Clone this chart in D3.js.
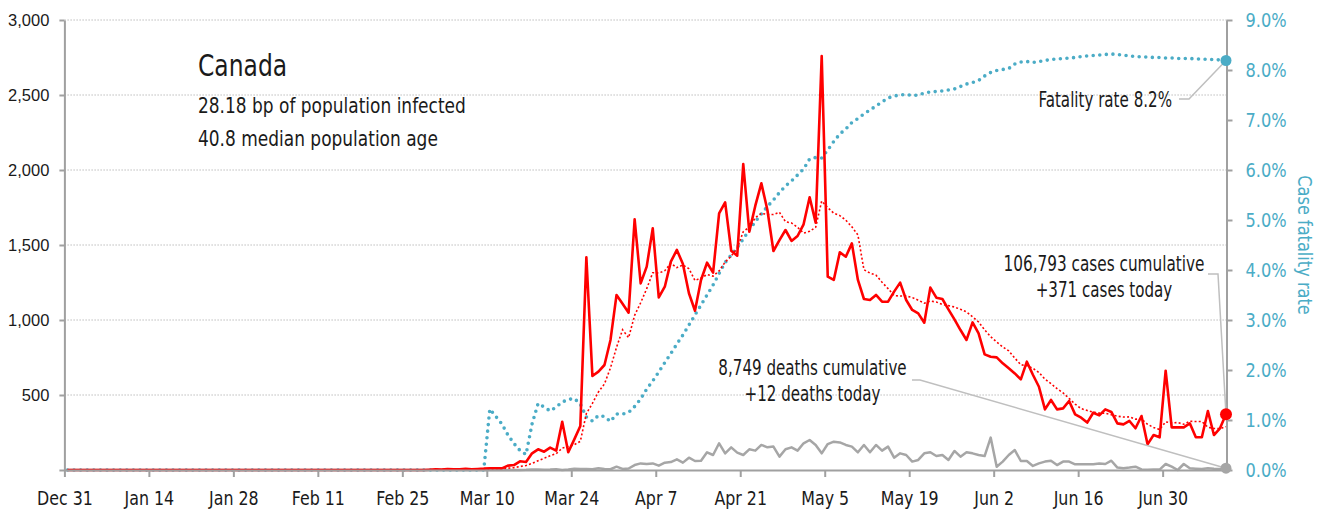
<!DOCTYPE html>
<html><head><meta charset="utf-8">
<script src="https://cdn.jsdelivr.net/npm/d3@7"></script>
<style>
body{margin:0;background:#fff;}
svg{display:block;}
.cond{font-family:"Liberation Sans Narrow","DejaVu Sans Condensed","Roboto Condensed","Arial Narrow",sans-serif;}
</style></head><body>
<svg id="chart" width="1319" height="512"></svg>
<script>
// ---------------- data (daily, starting Dec 31, 2019) ----------------
const startDate = "2019-12-31";
const cases = [
0,0,0,0,0,0,0,0,0,0, 0,0,0,0,0,0,0,0,0,0, 0,0,0,0,0,0,0,0,0,0,
0,0,0,0,0,0,0,0,0,0, 0,0,0,0,0,0,0,0,0,0, 0,0,0,0,0,0,0,0,0,0,
2,4,3,6,4,5,8,4,7,9,
12,12,11,29,33,58,53,111,138,122,
149,129,322,118,204,293,1418,627,656,700,
867,1167,1108,1049,1671,1244,1356,1611,1151,1222,
1389,1467,1373,1178,1062,1267,1382,1316,1711,1784,
1462,1429,2040,1589,1762,1911,1733,1460,1533,1600,
1527,1560,1638,1818,1649,2760,1289,1267,1451,1422,
1511,1267,1140,1133,1167,1122,1122,1189,1249,1133,
1067,1044,982,1216,1149,1140,1071,1004,933,867,
984,911,771,755,751,711,678,644,604,722,
635,555,404,467,404,411,460,371,349,316,
382,364,404,387,311,304,327,278,360,171,
233,218,662,284,284,284,311,218,218,393,
233,278,371];
const casesAvg7 = [
0,0,0,0,0,0,0,0,0,0, 0,0,0,0,0,0,0,0,0,0, 0,0,0,0,0,0,0,0,0,0,
0,0,0,0,0,0,0,0,0,0, 0,0,0,0,0,0,0,0,0,0, 0,0,0,0,0,0,0,0,0,0,
0,1,1,2,3,3,5,5,5,6,
7,8,9,12,16,23,30,44,62,78,
95,109,146,156,169,191,376,444,520,574,
681,818,935,882,1031,1115,1209,1315,1313,1329,
1378,1349,1367,1342,1263,1280,1303,1292,1327,1386,
1426,1479,1589,1619,1682,1711,1704,1703,1718,1655,
1647,1618,1579,1591,1618,1793,1749,1712,1696,1665,
1621,1567,1335,1313,1299,1252,1209,1163,1160,1159,
1150,1132,1112,1126,1120,1104,1096,1087,1071,1054,
1021,987,934,889,853,821,794,746,702,695,
678,650,606,576,542,514,477,439,409,397,
385,379,378,368,359,353,354,339,339,305,
283,270,321,315,316,305,325,323,323,285,
277,276,289];
const deaths = [
0,0,0,0,0,0,0,0,0,0, 0,0,0,0,0,0,0,0,0,0, 0,0,0,0,0,0,0,0,0,0,
0,0,0,0,0,0,0,0,0,0, 0,0,0,0,0,0,0,0,0,0, 0,0,0,0,0,0,0,0,0,0,
0,0,0,0,0,0,0,0,0,1,
0,0,0,0,0,0,1,3,4,2,
3,5,0,3,8,6,6,5,12,6,
5,22,7,10,33,44,40,44,29,49,
53,71,49,82,60,62,118,100,178,111,
151,116,100,138,129,167,151,156,89,138,
151,129,178,200,167,111,173,189,184,167,
156,118,167,118,167,129,156,82,111,100,
56,67,111,118,93,100,67,127,89,118,
111,100,93,216,22,56,100,133,60,60,
27,44,56,62,33,56,56,38,38,38,
38,44,40,62,16,11,16,22,4,1,
4,3,40,22,0,40,11,9,7,11,
8,7,12];
const fatalityPct = [
0,0,0,0,0,0,0,0,0,0, 0,0,0,0,0,0,0,0,0,0, 0,0,0,0,0,0,0,0,0,0,
0,0,0,0,0,0,0,0,0,0, 0,0,0,0,0,0,0,0,0,0, 0,0,0,0,0,0,0,0,0,0,
0,0,0,0,0,0,0,0,0,0,
1.22,1.07,0.92,0.70,0.53,0.39,0.31,0.92,1.33,1.26,
1.18,1.26,1.36,1.41,1.43,1.32,1.06,0.98,1.09,1.07,
0.97,1.12,1.12,1.15,1.27,1.42,1.62,1.78,1.96,2.15,
2.33,2.52,2.70,2.90,3.10,3.30,3.50,3.70,3.93,4.15,
4.30,4.45,4.62,4.80,4.97,5.12,5.27,5.40,5.55,5.68,
5.78,5.90,6.02,6.22,6.25,6.24,6.40,6.57,6.72,6.82,
6.95,7.03,7.12,7.20,7.28,7.36,7.44,7.48,7.50,7.51,
7.49,7.50,7.54,7.56,7.57,7.58,7.60,7.62,7.67,7.72,
7.75,7.79,7.88,7.95,7.99,8.01,8.03,8.12,8.16,8.17,
8.15,8.17,8.19,8.21,8.22,8.23,8.24,8.25,8.27,8.28,
8.29,8.30,8.31,8.32,8.31,8.30,8.28,8.27,8.26,8.26,
8.25,8.25,8.24,8.24,8.23,8.23,8.23,8.22,8.22,8.21,
8.21,8.20,8.19];

const xTickDates = ["2019-12-31","2020-01-14","2020-01-28","2020-02-11","2020-02-25","2020-03-10","2020-03-24","2020-04-07","2020-04-21","2020-05-05","2020-05-19","2020-06-02","2020-06-16","2020-06-30"];
const xTickLabels = ["Dec 31","Jan 14","Jan 28","Feb 11","Feb 25","Mar 10","Mar 24","Apr 7","Apr 21","May 5","May 19","Jun 2","Jun 16","Jun 30"];
const leftTicks = [0,500,1000,1500,2000,2500,3000];
const leftTickLabels = ["","500","1,000","1,500","2,000","2,500","3,000"];
const rightTicks = [0,1,2,3,4,5,6,7,8,9];
const rightTickLabels = ["0.0%","1.0%","2.0%","3.0%","4.0%","5.0%","6.0%","7.0%","8.0%","9.0%"];
const country = "Canada";
const infoLines = ["28.18 bp of population infected","40.8 median population age"];
const totalCases = "106,793", totalDeaths = "8,749", fatalityLabel = "8.2%";
const rightAxisTitle = "Case fatality rate";

// ---------------- chart ----------------
const RED = "#ff0000", TEAL = "#4bacc6", GREY = "#a6a6a6", AXIS = "#a0a0a0", TXT = "#1a1a1a";
const svg = d3.select("#chart");
const parse = d3.timeParse("%Y-%m-%d");
const t0 = parse(startDate);
const n = cases.length;
const dates = cases.map((_, i) => d3.timeHour.offset(d3.timeDay.offset(t0, i), 12));
const x = d3.scaleTime()
  .domain([t0, d3.timeHour.offset(d3.timeDay.offset(t0, n - 1), 14)])
  .range([64.4, 1226.5]);
const yL = d3.scaleLinear().domain([0, 3000]).range([470, 20]);
const yR = d3.scaleLinear().domain([0, 9]).range([470, 20]);

// grid
svg.append("g").selectAll("line").data(leftTicks.filter(d => d > 0)).join("line")
  .attr("x1", x.range()[0]).attr("x2", x.range()[1])
  .attr("y1", d => yL(d)).attr("y2", d => yL(d))
  .attr("stroke", "#bdbdbd").attr("stroke-width", 1).attr("stroke-dasharray", "1.5 1.5");

const lineL = arr => d3.line().x((d, i) => x(dates[i])).y(d => yL(d))(arr);
const lineR = arr => d3.line().x((d, i) => x(dates[i])).y(d => yR(d))(arr);

svg.append("path").attr("d", lineL(deaths)).attr("fill", "none")
  .attr("stroke", GREY).attr("stroke-width", 2.5).attr("stroke-linejoin", "round");
svg.append("path").attr("d", lineR(fatalityPct)).attr("fill", "none")
  .attr("stroke", TEAL).attr("stroke-width", 3.6).attr("stroke-linecap", "round")
  .attr("stroke-dasharray", "0 6.6");
svg.append("path").attr("d", lineL(casesAvg7)).attr("fill", "none")
  .attr("stroke", RED).attr("stroke-width", 1.6).attr("stroke-dasharray", "2 2.2");
svg.append("path").attr("d", lineL(cases)).attr("fill", "none")
  .attr("stroke", RED).attr("stroke-width", 2.6).attr("stroke-linejoin", "round");

// axes
const gx = svg.append("g").attr("transform", `translate(0,${yL(0)})`)
  .call(d3.axisBottom(x).tickValues(xTickDates.map(parse))
    .tickFormat((d, i) => xTickLabels[i]).tickSize(7).tickSizeOuter(0));
gx.selectAll(".tick text").attr("class", "cond").attr("y", 0).attr("dy", 0)
  .attr("transform", "translate(0,35) scale(0.88,1)")
  .attr("font-size", 20).attr("fill", TXT);

const gl = svg.append("g").attr("transform", `translate(${x.range()[0]},0)`)
  .call(d3.axisLeft(yL).tickValues(leftTicks)
    .tickFormat((d, i) => leftTickLabels[i]).tickSize(5).tickSizeOuter(0));
gl.selectAll(".tick text").attr("x", -15).attr("font-family", "'Liberation Sans',Arial,sans-serif")
  .attr("font-size", 16.5).attr("fill", TXT);

const gr = svg.append("g").attr("transform", `translate(${x.range()[1]},0)`)
  .call(d3.axisRight(yR).tickValues(rightTicks)
    .tickFormat((d, i) => rightTickLabels[i]).tickSize(6).tickSizeOuter(0));
gr.selectAll(".tick text").attr("class", "cond").attr("x", 0)
  .attr("transform", "translate(19,0) scale(0.9,1)")
  .attr("font-size", 20).attr("fill", TEAL);

[gx, gl, gr].forEach(g => {
  g.select(".domain").attr("stroke", AXIS).attr("stroke-width", 2);
  g.selectAll(".tick line").attr("stroke", AXIS).attr("stroke-width", 2);
});

svg.append("text").attr("class", "cond")
  .attr("transform", `translate(1298,${(yR(0) + yR(9)) / 2}) rotate(90) scale(0.9,1)`)
  .attr("text-anchor", "middle").attr("font-size", 20).attr("fill", TEAL)
  .text(rightAxisTitle);

// end markers + leaders
const last = n - 1;
const pCfr = [x(dates[last]), yR(fatalityPct[last])];
const pCases = [x(dates[last]), yL(cases[last])];
const pDeaths = [x(dates[last]), yL(deaths[last])];
const leader = pts => svg.append("path").attr("d", d3.line()(pts)).attr("fill", "none")
  .attr("stroke", "#bfbfbf").attr("stroke-width", 1.5);
leader([[1179, 99], [1189, 99], pCfr]);
leader([[1208, 274], [1218, 274], pCases]);
leader([[912, 380], [920, 380], pDeaths]);

svg.append("circle").attr("cx", pCfr[0]).attr("cy", pCfr[1]).attr("r", 5.5).attr("fill", TEAL);
svg.append("circle").attr("cx", pCases[0]).attr("cy", pCases[1]).attr("r", 6).attr("fill", RED);
svg.append("circle").attr("cx", pDeaths[0]).attr("cy", pDeaths[1]).attr("r", 5.5).attr("fill", GREY);

// texts
const txt = (s, xx, yy, size, sx, anchor) => svg.append("text").attr("class", "cond")
  .attr("transform", `translate(${xx},${yy}) scale(${sx},1)`)
  .attr("font-size", size).attr("fill", TXT)
  .attr("text-anchor", anchor || "start").text(s);
txt(country, 198, 76, 31, 0.84);
txt(infoLines[0], 198, 112.5, 21, 0.9);
txt(infoLines[1], 198, 146, 21, 0.9);
txt(`Fatality rate ${fatalityLabel}`, 1172, 107, 21, 0.8, "end");
txt(`${totalCases} cases cumulative`, 1104, 271, 21, 0.81, "middle");
txt(`+${cases[last]} cases today`, 1104, 297, 21, 0.8, "middle");
txt(`${totalDeaths} deaths cumulative`, 812.5, 375, 21, 0.8, "middle");
txt(`+${deaths[last]} deaths today`, 812.5, 401, 21, 0.8, "middle");
</script></body></html>
